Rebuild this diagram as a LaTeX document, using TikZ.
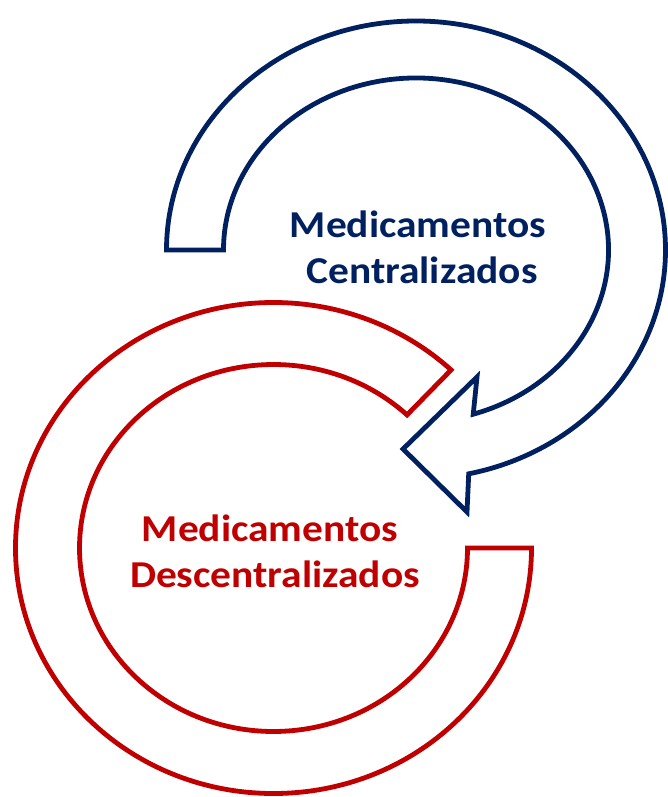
\documentclass[tikz,border=0pt]{standalone}
\usepackage{fontspec}
\usepackage{graphicx}
\setmainfont{Carlito}
\usetikzlibrary{calc}
\definecolor{navy}{HTML}{002060}
\definecolor{darkred}{HTML}{C00000}
\tikzset{
  ringline/.style={line width=4.8pt, fill=white, line join=miter},
  bluering/.style={ringline, draw=navy},
  redring/.style={ringline, draw=darkred},
  lbl/.style={anchor=base, inner sep=0pt, font=\fontsize{38}{45}\selectfont\bfseries},
}
\newcommand{\wid}[1]{\scalebox{1.09}[1]{#1}}
\begin{document}
\begin{tikzpicture}[x=1pt,y=1pt]
\useasboundingbox (0,0) rectangle (667,-797);
\coordinate (rc) at (273.5,-548);
\coordinate (bc) at (416,-250);
% red ring (cut end hidden near blue arrowhead)
\draw[redring] ($(rc)+(0:258 and 245.5)$)
  arc[start angle=0, end angle=-313.5, x radius=258, y radius=245.5]
  -- ($(rc)+(46.5:194 and 183.5)$)
  arc[start angle=46.5, end angle=360, x radius=194, y radius=183.5]
  -- cycle;
% blue ring with arrowhead
\coordinate (bt) at (403,-449);
\coordinate (bb1) at (467,-512);
\coordinate (bb2) at (477,-377);
\draw[bluering] ($(bc)+(180:249.5 and 229)$)
  arc[start angle=180, end angle=-77.8, x radius=249.5, y radius=229]
  -- (bb1) -- (bt) -- (bb2)
  -- ($(bc)+(-72.7:192.5 and 172)$)
  arc[start angle=-72.7, end angle=180, x radius=192.5, y radius=172]
  -- cycle;
% labels
\node[lbl, text=navy] (b1) at (418,-237) {\wid{Medicamentos}};
\node[lbl, text=navy] (b2) at (422,-283) {\wid{Centralizados}};
\node[lbl, text=darkred] (r1) at (270,-541) {\wid{Medicamentos}};
\node[lbl, text=darkred] (r2) at (275,-587) {\wid{Descentralizados}};
\end{tikzpicture}
\end{document}
